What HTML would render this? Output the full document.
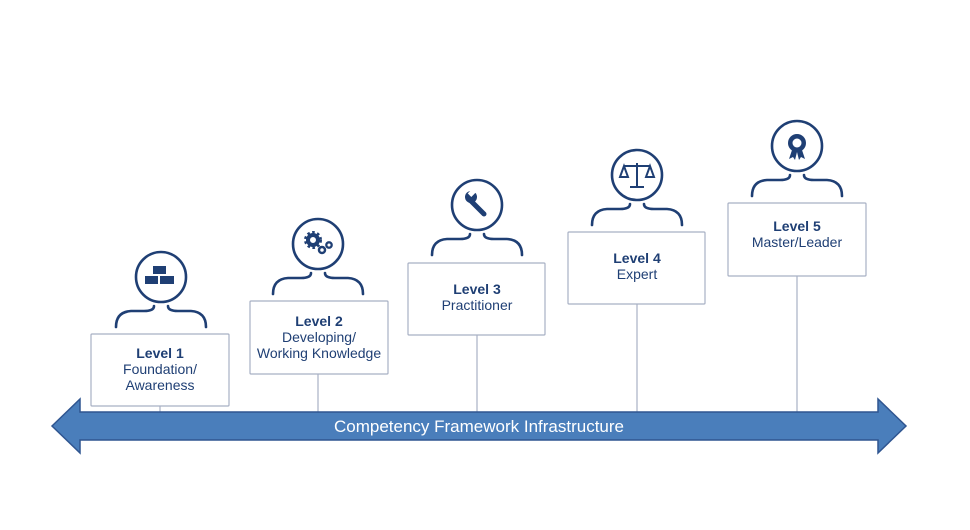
<!DOCTYPE html>
<html><head><meta charset="utf-8"><style>
body{margin:0;background:#fff;}
svg{display:block;font-family:"Liberation Sans",sans-serif;}
</style></head><body>
<svg width="970" height="530" viewBox="0 0 970 530">
<defs>
<g id="p" fill="none" stroke="#1f3f74" stroke-width="2.6" stroke-linecap="round">
<circle cx="0" cy="0" r="25"/>
<path d="M-7,29 Q-7,34 -17,34 L-30,34 Q-45,35 -45,50"/>
<path d="M7,29 Q7,34 17,34 L30,34 Q45,35 45,50"/>
</g>
</defs>
<g stroke="#a8b0c4" stroke-width="1.2">
<line x1="160" y1="406" x2="160" y2="414"/>
<line x1="318" y1="374" x2="318" y2="414"/>
<line x1="477" y1="335" x2="477" y2="414"/>
<line x1="637" y1="304" x2="637" y2="414"/>
<line x1="797" y1="276" x2="797" y2="414"/>
</g>
<path d="M52,426 L80,399 L80,412 L878,412 L878,399 L906,426 L878,453 L878,440 L80,440 L80,453 Z" fill="#4a7ebb" stroke="#2f5590" stroke-width="1.5"/>
<text x="479" y="432" text-anchor="middle" fill="#fff" font-size="17">Competency Framework Infrastructure</text>
<g fill="#fff" stroke="#a8b0c4" stroke-width="1.2">
<rect x="91" y="334" width="138" height="72" rx="1"/>
<rect x="250" y="301" width="138" height="73" rx="1"/>
<rect x="408" y="263" width="137" height="72" rx="1"/>
<rect x="568" y="232" width="137" height="72" rx="1"/>
<rect x="728" y="203" width="138" height="73" rx="1"/>
</g>
<use href="#p" x="161" y="277"/>
<use href="#p" x="318" y="244"/>
<use href="#p" x="477" y="205"/>
<use href="#p" x="637" y="175"/>
<use href="#p" x="797" y="146"/>
<g fill="#1f3f74">
<rect x="153" y="266" width="13" height="8"/><rect x="145" y="276" width="13" height="8"/><rect x="160" y="276" width="14" height="8"/>
</g>
<g stroke="#1f3f74" fill="none">
<circle cx="313" cy="240" r="5" stroke-width="4"/>
<circle cx="313" cy="240" r="7.5" stroke-width="3" stroke-dasharray="2.5 2.4"/>
<circle cx="322" cy="250" r="3" stroke-width="2.5"/>
<circle cx="329" cy="245" r="2.7" stroke-width="2.3"/>
</g>
<path d="M468,198 L484,214" stroke="#1f3f74" stroke-width="5" stroke-linecap="round"/>
<circle cx="471" cy="197" r="6" fill="#1f3f74"/><rect x="470" y="189" width="5" height="7" fill="#fff" transform="rotate(45 472 192)"/>
<g stroke="#1f3f74" stroke-width="2" fill="none">
<line x1="637" y1="163" x2="637" y2="187"/><line x1="624" y1="166" x2="650" y2="166"/><line x1="630" y1="187" x2="644" y2="187"/>
<path d="M624,166 L620,177 L628,177 Z M650,166 L646,177 L654,177 Z"/>
</g>
<circle cx="797" cy="143" r="9" fill="#1f3f74"/><circle cx="797" cy="143" r="4.5" fill="#fff"/>
<path d="M792,150 L789,159 L793,157 L795,160 L797,152 L799,160 L801,157 L805,159 L802,150Z" fill="#1f3f74"/>
<g fill="#1f3f74" font-size="14" text-anchor="middle">
<text x="160" y="358" font-weight="bold">Level 1</text><text x="160" y="374">Foundation/</text><text x="160" y="390">Awareness</text>
<text x="319" y="326" font-weight="bold">Level 2</text><text x="319" y="342">Developing/</text><text x="319" y="358">Working Knowledge</text>
<text x="477" y="294" font-weight="bold">Level 3</text><text x="477" y="310">Practitioner</text>
<text x="637" y="263" font-weight="bold">Level 4</text><text x="637" y="279">Expert</text>
<text x="797" y="231" font-weight="bold">Level 5</text><text x="797" y="247">Master/Leader</text>
</g>
</svg>
</body></html>
